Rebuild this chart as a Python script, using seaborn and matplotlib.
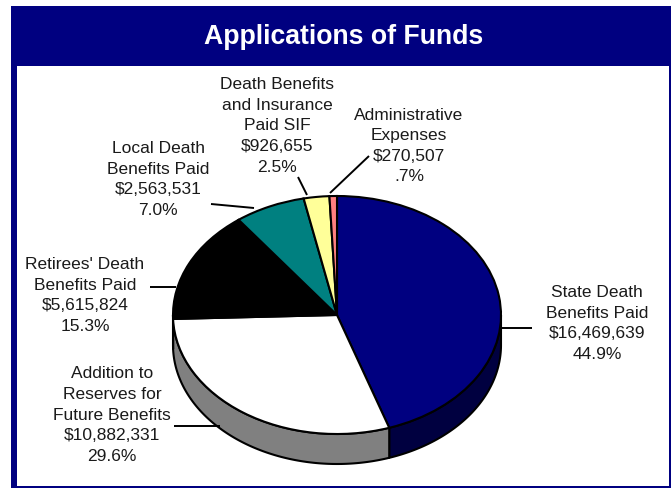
import numpy as np
import matplotlib
matplotlib.use("Agg")
import matplotlib.pyplot as plt
from matplotlib.patches import Rectangle
import seaborn as sns

title_text = "Applications of Funds"
categories = [
    "State Death\nBenefits Paid",
    "Addition to\nReserves for\nFuture Benefits",
    "Retirees' Death\nBenefits Paid",
    "Local Death\nBenefits Paid",
    "Death Benefits\nand Insurance\nPaid SIF",
    "Administrative\nExpenses",
]
amounts = [16469639, 10882331, 5615824, 2563531, 926655, 270507]
percent_labels = ["44.9%", "29.6%", "15.3%", "7.0%", "2.5%", ".7%"]
top_colors = ["#000080", "#FFFFFF", "#000000", "#008080", "#FFFF99", "#FF8080"]
side_colors = ["#000040", "#808080", "#000000", "#004040", "#808040", "#804040"]

W, H = 671, 489
NAVY = "#000080"
INK = "#1a1a1a"
CX, CY, RX, RY, DEPTH = 337, 316, 164, 119, 30

sns.set_theme(style="white", rc={"font.family": ["Liberation Sans", "DejaVu Sans"]})
palette = sns.color_palette(top_colors)
side_palette = sns.color_palette(side_colors)

fig = plt.figure(figsize=(W / 100, H / 100), dpi=100, facecolor="white")

# Page-level layer in pixel units: frame, banner
page = fig.add_axes([0, 0, 1, 1], zorder=0)
page.set_xlim(0, W)
page.set_ylim(H, 0)
page.axis("off")
page.add_patch(Rectangle((11, 7), W - 11, H - 7, fc=NAVY, ec="none"))
page.add_patch(Rectangle((17, 67), 652, 420, fc="white", ec="none"))
page.text(344, 37, title_text, color="white", fontsize=19.2, fontweight="bold",
          ha="center", va="center")

# Pie layer: unit circle stretched into an ellipse, with room below for the wall
depth = DEPTH / RY
pie_ax = fig.add_axes([(CX - RX) / W, (H - CY - RY - DEPTH) / H,
                       2 * RX / W, (2 * RY + DEPTH) / H], zorder=1)
pie_ax.patch.set_alpha(0)

fractions = np.array(amounts) / sum(amounts)
edges = np.concatenate([[0], np.cumsum(fractions)]) * 2 * np.pi

# Outer wall of the disc, only where it faces the viewer
for a0, a1, col in zip(edges[:-1], edges[1:], side_palette):
    lo, hi = max(a0, np.pi / 2), min(a1, 3 * np.pi / 2)
    if hi <= lo:
        continue
    t = np.linspace(lo, hi, 120)
    x, y = np.sin(t), np.cos(t)
    pie_ax.fill(np.r_[x, x[::-1]], np.r_[y, y[::-1] - depth],
                fc=col, ec="black", lw=1.5, joinstyle="round", clip_on=False)

pie_ax.pie(amounts, colors=palette, startangle=90, counterclock=False, radius=1,
           wedgeprops={"edgecolor": "black", "linewidth": 1.5}, frame=True)
pie_ax.set_aspect("auto")
pie_ax.set_xlim(-1, 1)
pie_ax.set_ylim(-1 - depth, 1)
pie_ax.axis("off")
for artist in pie_ax.patches:
    artist.set_clip_on(False)

# Labels and leader lines in pixel units
overlay = fig.add_axes([0, 0, 1, 1], zorder=2)
overlay.set_xlim(0, W)
overlay.set_ylim(H, 0)
overlay.axis("off")
overlay.patch.set_alpha(0)

label_pos = [(597, 323.5), (112, 415), (85, 295.5), (158, 179.5), (277, 126), (409, 146)]
leaders = [((502, 329), (532, 329)), ((174, 427), (220, 427)), ((150, 288), (176, 288)),
           ((211, 205), (254, 209)), ((298, 178), (307, 196)), ((369, 157), (330, 194))]

for name, amt, pct, (tx, ty), (p0, p1) in zip(categories, amounts, percent_labels,
                                              label_pos, leaders):
    overlay.text(tx, ty, f"{name}\n${amt:,}\n{pct}", ha="center", va="center",
                 ma="center", fontsize=12.5, color=INK, linespacing=1.46)
    overlay.plot([p0[0], p1[0]], [p0[1], p1[1]], color="black", lw=1.4,
                 solid_capstyle="butt")

fig.savefig("out.png", dpi=100, facecolor="white")
